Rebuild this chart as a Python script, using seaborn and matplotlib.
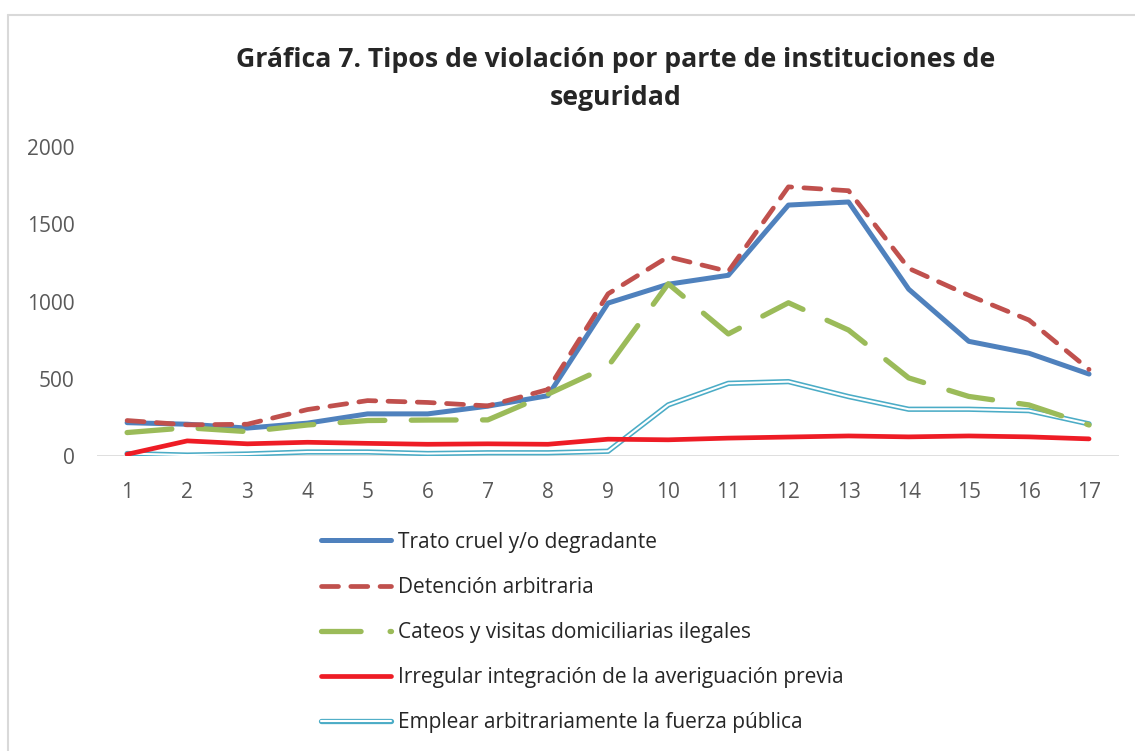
import numpy as np
import pandas as pd
import seaborn as sns
import matplotlib.pyplot as plt
from matplotlib.lines import Line2D
from matplotlib.legend_handler import HandlerTuple

# values
periodo = list(range(1, 18))
trato_cruel = [215, 205, 180, 212, 272, 272, 322, 390, 990, 1112, 1170, 1625, 1645, 1080, 742, 665, 530]
detencion = [229, 201, 205, 300, 358, 346, 324, 430, 1050, 1290, 1195, 1743, 1718, 1215, 1040, 880, 560]
cateos = [151, 182, 157, 200, 229, 232, 233, 400, 580, 1115, 790, 992, 815, 505, 385, 330, 200]
irregular = [10, 97, 78, 88, 81, 75, 78, 75, 108, 104, 115, 122, 129, 123, 129, 123, 110]
fuerza = [15, 5, 12, 25, 25, 15, 20, 20, 30, 330, 470, 481, 384, 302, 302, 293, 207]

nombres = ["Trato cruel y/o degradante", "Detención arbitraria",
           "Cateos y visitas domiciliarias ilegales",
           "Irregular integración de la averiguación previa",
           "Emplear arbitrariamente la fuerza pública"]
yticks = [0, 500, 1000, 1500, 2000]

df = pd.DataFrame({"periodo": periodo, nombres[0]: trato_cruel, nombres[1]: detencion,
                   nombres[2]: cateos, nombres[3]: irregular, nombres[4]: fuerza})

sns.set_theme(style="white")
plt.rcParams['font.family'] = ['Open Sans', 'DejaVu Sans']

fig = plt.figure(figsize=(11.35, 7.51), dpi=100)
ax = fig.add_axes([0.0855, 0.393, 0.9005, 0.411])

azul, rojo, verde, rojo2, cian = "#4f81bd", "#c0504d", "#9bbb59", "#ee1c25", "#4bacc6"

sns.lineplot(data=df, x="periodo", y=nombres[4], ax=ax, color=cian, linewidth=3.8,
             solid_capstyle="round", zorder=2)
sns.lineplot(data=df, x="periodo", y=nombres[4], ax=ax, color="white", linewidth=1.5, zorder=2.1)
sns.lineplot(data=df, x="periodo", y=nombres[3], ax=ax, color=rojo2, linewidth=3.4,
             solid_capstyle="round", zorder=3)
sns.lineplot(data=df, x="periodo", y=nombres[0], ax=ax, color=azul, linewidth=3.6,
             solid_capstyle="round", zorder=4)
sns.lineplot(data=df, x="periodo", y=nombres[2], ax=ax, color=verde, linewidth=3.8,
             linestyle=(0, (8.5, 5)), dash_capstyle="round", zorder=5)
sns.lineplot(data=df, x="periodo", y=nombres[1], ax=ax, color=rojo, linewidth=3.4,
             linestyle=(0, (3.6, 2.6)), dash_capstyle="round", zorder=6)

ax.set_xlim(0.5, 17.5)
ax.set_ylim(0, 2000)
ax.set_xticks(periodo)
ax.set_yticks(yticks)
ax.set_xlabel("")
ax.set_ylabel("")
for s in ["top", "right", "left", "bottom"]:
    ax.spines[s].set_visible(False)
ax.axhline(0, color="#d9d9d9", linewidth=1.2, zorder=1)
ax.tick_params(axis="both", length=0, labelsize=15, labelcolor="#595959")
ax.tick_params(axis="x", pad=19)
ax.tick_params(axis="y", pad=16)

fig.text(0.5427, 0.92, "Gráfica 7. Tipos de violación por parte de instituciones de",
         ha="center", va="center", fontsize=19.2, fontweight="bold", color="#262626")
fig.text(0.5427, 0.869, "seguridad", ha="center", va="center", fontsize=19.2,
         fontweight="bold", color="#262626")

handles = [
    Line2D([], [], color=azul, linewidth=3.6, solid_capstyle="round"),
    Line2D([], [], color=rojo, linewidth=3.4, linestyle=(0, (3.6, 2.6)), dash_capstyle="round"),
    Line2D([], [], color=verde, linewidth=3.8, linestyle=(0, (7.5, 5.5)), dash_capstyle="round"),
    Line2D([], [], color=rojo2, linewidth=3.4, solid_capstyle="round"),
    (Line2D([], [], color=cian, linewidth=3.8, solid_capstyle="round"),
     Line2D([], [], color="white", linewidth=1.5)),
]
leg = fig.legend(handles, nombres, loc="upper left", bbox_to_anchor=(0.266, 0.317),
                 frameon=False, fontsize=15, handlelength=3.4, handletextpad=0.3,
                 labelspacing=1.16, handler_map={tuple: HandlerTuple(ndivide=1)})
for t in leg.get_texts():
    t.set_color("#262626")

# light chart-area border (top and left edges visible)
fig.add_artist(Line2D([8 / 1135, 1], [1 - 15 / 751, 1 - 15 / 751], color="#d9d9d9",
                      linewidth=1.5, transform=fig.transFigure))
fig.add_artist(Line2D([8 / 1135, 8 / 1135], [0, 1 - 15 / 751], color="#d9d9d9",
                      linewidth=1.5, transform=fig.transFigure))

fig.savefig("out.png", dpi=100, facecolor="white")
